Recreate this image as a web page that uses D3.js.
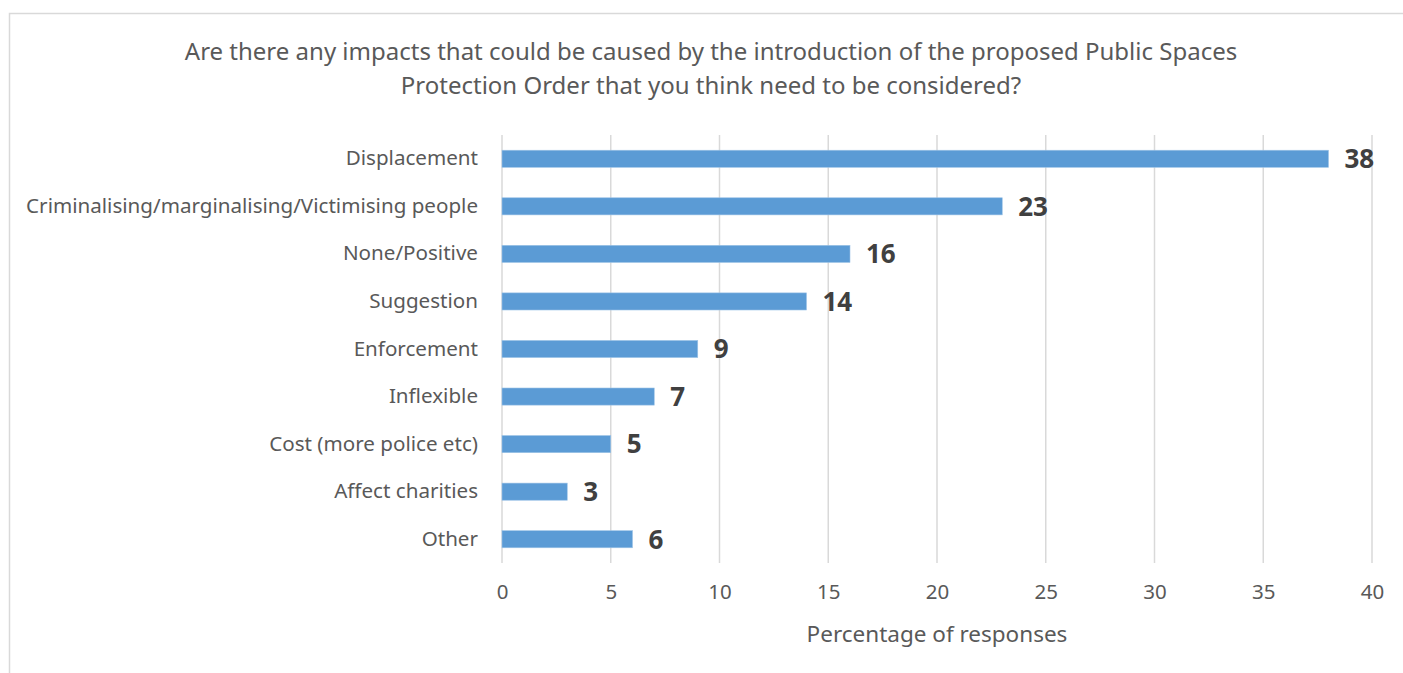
<!DOCTYPE html>
<html>
<head>
<meta charset="utf-8">
<script src="https://cdn.jsdelivr.net/npm/d3@7"></script>
<style>
  html, body { margin: 0; padding: 0; background: #fff; }
  svg { display: block; }
  text { font-family: "Noto Sans", "Open Sans", sans-serif; }
</style>
</head>
<body>
<svg id="chart" width="1403" height="673"></svg>
<script>
// Survey categories, top to bottom
const categories = [
  "Displacement",
  "Criminalising/marginalising/Victimising people",
  "None/Positive",
  "Suggestion",
  "Enforcement",
  "Inflexible",
  "Cost (more police etc)",
  "Affect charities",
  "Other"
];
// Percentage of responses per category
const percentages = [38, 23, 16, 14, 9, 7, 5, 3, 6];
// Horizontal axis ticks
const xTicks = [0, 5, 10, 15, 20, 25, 30, 35, 40];

const titleLines = [
  "Are there any impacts that could be caused by the introduction of the proposed Public Spaces",
  "Protection Order that you think need to be considered?"
];
const xAxisTitle = "Percentage of responses";

const W = 1403, H = 673;
const margin = { left: 502, right: 31, top: 135, bottom: 110 };

const svg = d3.select("#chart");

// Outer chart frame (runs off the right and bottom edges)
svg.append("rect")
  .attr("x", 9.5).attr("y", 13.5)
  .attr("width", W + 20).attr("height", H)
  .attr("fill", "#fff").attr("stroke", "#d9d9d9").attr("stroke-width", 1.5);

// Title
svg.append("text")
  .attr("x", 711).attr("y", 60)
  .attr("text-anchor", "middle")
  .attr("fill", "#595959")
  .style("font-size", "24px")
  .selectAll("tspan")
  .data(titleLines)
  .join("tspan")
  .attr("x", 711)
  .attr("dy", (d, i) => i === 0 ? 0 : 34)
  .text(d => d);

const x = d3.scaleLinear()
  .domain([0, 40])
  .range([margin.left, W - margin.right]);

const y = d3.scaleBand()
  .domain(categories)
  .range([margin.top, H - margin.bottom])
  .paddingInner(0.64)
  .paddingOuter(0.32);

// Vertical gridlines
svg.append("g")
  .selectAll("line")
  .data(xTicks)
  .join("line")
  .attr("x1", d => x(d)).attr("x2", d => x(d))
  .attr("y1", margin.top).attr("y2", H - margin.bottom)
  .attr("stroke", "#d9d9d9").attr("stroke-width", 1.5);

// X axis tick labels
const xAxis = d3.axisBottom(x).tickValues(xTicks).tickSize(0).tickPadding(0);
const gx = svg.append("g")
  .attr("transform", `translate(0, ${H - margin.bottom + 21})`)
  .call(xAxis);
gx.select(".domain").remove();
gx.selectAll("text")
  .attr("dy", "0.71em")
  .attr("fill", "#595959")
  .style("font-size", "20.5px")
  .style("font-family", "'Noto Sans', 'Open Sans', sans-serif");

// Category labels
const yAxis = d3.axisLeft(y).tickSize(0).tickPadding(24);
const gy = svg.append("g")
  .attr("transform", `translate(${margin.left}, 0)`)
  .call(yAxis);
gy.select(".domain").remove();
gy.selectAll("text")
  .attr("fill", "#595959")
  .style("font-size", "20.6px")
  .style("font-family", "'Noto Sans', 'Open Sans', sans-serif");

// Bars
svg.append("g")
  .selectAll("rect")
  .data(categories)
  .join("rect")
  .attr("x", x(0))
  .attr("y", c => y(c))
  .attr("width", (c, i) => x(percentages[i]) - x(0))
  .attr("height", y.bandwidth())
  .attr("fill", "#5b9bd5")
  .attr("stroke", "#9dc3e6").attr("stroke-width", 0.6);

// Value labels
svg.append("g")
  .selectAll("text")
  .data(categories)
  .join("text")
  .attr("x", (c, i) => x(percentages[i]) + 16)
  .attr("y", c => y(c) + y.bandwidth() / 2)
  .attr("dy", "0.36em")
  .attr("fill", "#404040")
  .style("font-size", "26px")
  .style("font-weight", "bold")
  .text((c, i) => percentages[i]);

// Axis title
svg.append("text")
  .attr("x", x(20)).attr("y", 642)
  .attr("text-anchor", "middle")
  .attr("fill", "#595959")
  .style("font-size", "22.5px")
  .text(xAxisTitle);
</script>
</body>
</html>
